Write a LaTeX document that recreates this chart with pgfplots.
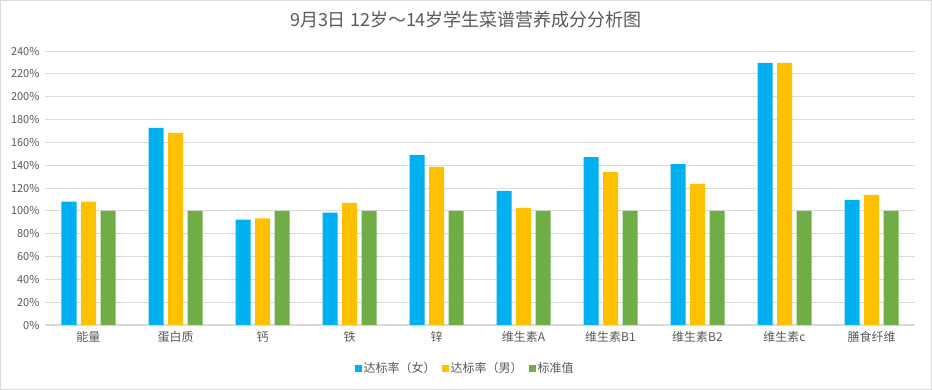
\documentclass[border=0pt]{standalone}
\usepackage{pgfplots}
\pgfplotsset{compat=1.18}
\usepackage{fontspec}
\setmainfont{Noto Sans CJK SC}
\definecolor{cF}{HTML}{00B0F0}
\definecolor{cM}{HTML}{FFC000}
\definecolor{cS}{HTML}{70AD47}
\definecolor{gridc}{HTML}{D9D9D9}
\definecolor{txt}{HTML}{595959}
\begin{document}
\begin{tikzpicture}[x=1pt,y=1pt]
\draw[gridc, line width=1pt, use as bounding box] (0.5,0.5) rectangle (931.5,389.5);
\node[text=txt, font=\fontsize{18}{21}\selectfont] at (466,370) {9月3日 12岁～14岁学生菜谱营养成分分析图};
\begin{axis}[
  at={(45pt,65pt)}, anchor=south west,
  scale only axis, width=870pt, height=274pt,
  ybar=4.5pt, bar width=15pt,
  xmin=-0.5, xmax=9.5, ymin=0, ymax=240,
  xtick=data,
  xticklabels={能量,蛋白质,钙,铁,锌,维生素A,维生素B1,维生素B2,维生素c,膳食纤维},
  ytick={0,20,...,240},
  yticklabel={\pgfmathprintnumber{\tick}\%},
  /pgf/number format/assume math mode=true,
  ymajorgrids, grid style={gridc, line width=0.8pt},
  axis x line*=bottom, axis y line*=left,
  x axis line style={gridc, line width=1pt, -},
  y axis line style={draw=none},
  major tick length=0pt,
  tick label style={text=txt, font=\fontsize{11}{13}\selectfont},
  xticklabel style={font=\fontsize{12}{14}\selectfont, yshift=-3pt},
  yticklabel style={xshift=-2pt},
  legend style={at={(0.483,-0.157)}, anchor=center, draw=none, fill=none,
    legend columns=-1, font=\fontsize{12}{14}\selectfont, text=txt,
    /tikz/every even column/.append style={column sep=4pt}},
  legend image code/.code={\fill[#1] (0pt,-3.5pt) rectangle (7pt,3.5pt);},
]
\addplot[fill=cF, draw=none] coordinates {(0,108) (1,172.7) (2,92.4) (3,98.5) (4,149) (5,117.5) (6,147) (7,141) (8,229.5) (9,109.6)};
\addplot[fill=cM, draw=none] coordinates {(0,108) (1,168.3) (2,93.3) (3,107) (4,138.5) (5,102.6) (6,134) (7,123.6) (8,229.5) (9,114)};
\addplot[fill=cS, draw=none] coordinates {(0,100) (1,100) (2,100) (3,100) (4,100) (5,100) (6,100) (7,100) (8,100) (9,100)};
\legend{达标率（女）,达标率（男）,标准值}
\end{axis}
\end{tikzpicture}
\end{document}
